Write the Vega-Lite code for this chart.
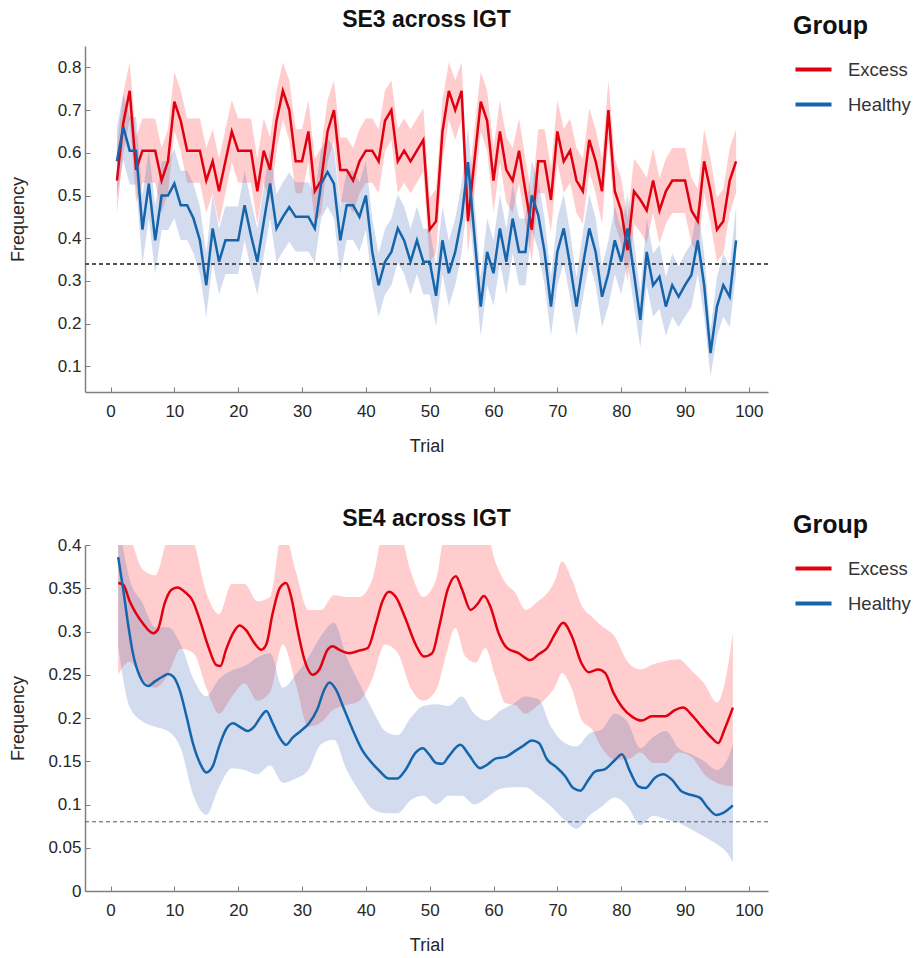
{
  "$schema": "https://vega.github.io/schema/vega-lite/v6.json",
  "background": "white",
  "padding": {"left": 9, "top": 9, "right": 0, "bottom": 2},
  "config": {
    "font": "Liberation Sans",
    "view": {"stroke": null},
    "concat": {"spacing": 53},
    "axis": {"grid": false, "labelFont": "Liberation Sans", "labelFontSize": 17, "labelColor": "#262626", "titleFont": "Liberation Sans", "titleFontSize": 18, "titleFontWeight": "normal", "titleColor": "#262626", "domainColor": "#808080", "domainWidth": 1.5, "tickColor": "#808080", "tickWidth": 1, "tickSize": -5},
    "axisX": {"labelPadding": 16, "titlePadding": 18},
    "axisY": {"labelPadding": 9, "titleX": -58},
    "title": {"font": "Liberation Sans", "fontSize": 23, "fontWeight": "bold", "color": "#111111", "offset": -18},
    "legend": {"orient": "none", "legendX": 708, "legendY": -32, "titleFont": "Liberation Sans", "titleFontSize": 25, "titleFontWeight": "bold", "titleColor": "#111111", "titlePadding": 10, "labelFont": "Liberation Sans", "labelFontSize": 18.5, "labelColor": "#333333", "labelOffset": 14, "symbolType": "stroke", "symbolStrokeWidth": 4, "symbolSize": 1300, "rowPadding": 5}
  },
  "datasets": {
    "se3": [
      {"trial":1,"group":"Excess","mean":0.535,"lo":0.459,"hi":0.611},
      {"trial":2,"group":"Excess","mean":0.67,"lo":0.599,"hi":0.741},
      {"trial":3,"group":"Excess","mean":0.745,"lo":0.678,"hi":0.812},
      {"trial":4,"group":"Excess","mean":0.56,"lo":0.484,"hi":0.636},
      {"trial":5,"group":"Excess","mean":0.605,"lo":0.53,"hi":0.68},
      {"trial":6,"group":"Excess","mean":0.605,"lo":0.53,"hi":0.68},
      {"trial":7,"group":"Excess","mean":0.605,"lo":0.53,"hi":0.68},
      {"trial":8,"group":"Excess","mean":0.535,"lo":0.459,"hi":0.611},
      {"trial":9,"group":"Excess","mean":0.58,"lo":0.505,"hi":0.655},
      {"trial":10,"group":"Excess","mean":0.72,"lo":0.651,"hi":0.789},
      {"trial":11,"group":"Excess","mean":0.675,"lo":0.604,"hi":0.746},
      {"trial":12,"group":"Excess","mean":0.605,"lo":0.53,"hi":0.68},
      {"trial":13,"group":"Excess","mean":0.605,"lo":0.53,"hi":0.68},
      {"trial":14,"group":"Excess","mean":0.605,"lo":0.53,"hi":0.68},
      {"trial":15,"group":"Excess","mean":0.535,"lo":0.459,"hi":0.611},
      {"trial":16,"group":"Excess","mean":0.58,"lo":0.505,"hi":0.655},
      {"trial":17,"group":"Excess","mean":0.51,"lo":0.434,"hi":0.586},
      {"trial":18,"group":"Excess","mean":0.58,"lo":0.505,"hi":0.655},
      {"trial":19,"group":"Excess","mean":0.65,"lo":0.577,"hi":0.723},
      {"trial":20,"group":"Excess","mean":0.605,"lo":0.53,"hi":0.68},
      {"trial":21,"group":"Excess","mean":0.605,"lo":0.53,"hi":0.68},
      {"trial":22,"group":"Excess","mean":0.605,"lo":0.53,"hi":0.68},
      {"trial":23,"group":"Excess","mean":0.51,"lo":0.434,"hi":0.586},
      {"trial":24,"group":"Excess","mean":0.605,"lo":0.53,"hi":0.68},
      {"trial":25,"group":"Excess","mean":0.56,"lo":0.484,"hi":0.636},
      {"trial":26,"group":"Excess","mean":0.675,"lo":0.604,"hi":0.746},
      {"trial":27,"group":"Excess","mean":0.745,"lo":0.678,"hi":0.812},
      {"trial":28,"group":"Excess","mean":0.7,"lo":0.63,"hi":0.77},
      {"trial":29,"group":"Excess","mean":0.58,"lo":0.505,"hi":0.655},
      {"trial":30,"group":"Excess","mean":0.58,"lo":0.505,"hi":0.655},
      {"trial":31,"group":"Excess","mean":0.65,"lo":0.577,"hi":0.723},
      {"trial":32,"group":"Excess","mean":0.51,"lo":0.434,"hi":0.586},
      {"trial":33,"group":"Excess","mean":0.535,"lo":0.459,"hi":0.611},
      {"trial":34,"group":"Excess","mean":0.65,"lo":0.577,"hi":0.723},
      {"trial":35,"group":"Excess","mean":0.7,"lo":0.63,"hi":0.77},
      {"trial":36,"group":"Excess","mean":0.56,"lo":0.484,"hi":0.636},
      {"trial":37,"group":"Excess","mean":0.56,"lo":0.484,"hi":0.636},
      {"trial":38,"group":"Excess","mean":0.535,"lo":0.459,"hi":0.611},
      {"trial":39,"group":"Excess","mean":0.58,"lo":0.505,"hi":0.655},
      {"trial":40,"group":"Excess","mean":0.605,"lo":0.53,"hi":0.68},
      {"trial":41,"group":"Excess","mean":0.605,"lo":0.53,"hi":0.68},
      {"trial":42,"group":"Excess","mean":0.58,"lo":0.505,"hi":0.655},
      {"trial":43,"group":"Excess","mean":0.675,"lo":0.604,"hi":0.746},
      {"trial":44,"group":"Excess","mean":0.7,"lo":0.63,"hi":0.77},
      {"trial":45,"group":"Excess","mean":0.58,"lo":0.505,"hi":0.655},
      {"trial":46,"group":"Excess","mean":0.605,"lo":0.53,"hi":0.68},
      {"trial":47,"group":"Excess","mean":0.58,"lo":0.505,"hi":0.655},
      {"trial":48,"group":"Excess","mean":0.605,"lo":0.53,"hi":0.68},
      {"trial":49,"group":"Excess","mean":0.63,"lo":0.556,"hi":0.704},
      {"trial":50,"group":"Excess","mean":0.42,"lo":0.345,"hi":0.495},
      {"trial":51,"group":"Excess","mean":0.44,"lo":0.364,"hi":0.516},
      {"trial":52,"group":"Excess","mean":0.65,"lo":0.577,"hi":0.723},
      {"trial":53,"group":"Excess","mean":0.745,"lo":0.678,"hi":0.812},
      {"trial":54,"group":"Excess","mean":0.7,"lo":0.63,"hi":0.77},
      {"trial":55,"group":"Excess","mean":0.745,"lo":0.678,"hi":0.812},
      {"trial":56,"group":"Excess","mean":0.44,"lo":0.364,"hi":0.516},
      {"trial":57,"group":"Excess","mean":0.58,"lo":0.505,"hi":0.655},
      {"trial":58,"group":"Excess","mean":0.72,"lo":0.651,"hi":0.789},
      {"trial":59,"group":"Excess","mean":0.675,"lo":0.604,"hi":0.746},
      {"trial":60,"group":"Excess","mean":0.535,"lo":0.459,"hi":0.611},
      {"trial":61,"group":"Excess","mean":0.65,"lo":0.577,"hi":0.723},
      {"trial":62,"group":"Excess","mean":0.56,"lo":0.484,"hi":0.636},
      {"trial":63,"group":"Excess","mean":0.535,"lo":0.459,"hi":0.611},
      {"trial":64,"group":"Excess","mean":0.605,"lo":0.53,"hi":0.68},
      {"trial":65,"group":"Excess","mean":0.51,"lo":0.434,"hi":0.586},
      {"trial":66,"group":"Excess","mean":0.42,"lo":0.345,"hi":0.495},
      {"trial":67,"group":"Excess","mean":0.58,"lo":0.505,"hi":0.655},
      {"trial":68,"group":"Excess","mean":0.58,"lo":0.505,"hi":0.655},
      {"trial":69,"group":"Excess","mean":0.49,"lo":0.414,"hi":0.566},
      {"trial":70,"group":"Excess","mean":0.65,"lo":0.577,"hi":0.723},
      {"trial":71,"group":"Excess","mean":0.58,"lo":0.505,"hi":0.655},
      {"trial":72,"group":"Excess","mean":0.605,"lo":0.53,"hi":0.68},
      {"trial":73,"group":"Excess","mean":0.535,"lo":0.459,"hi":0.611},
      {"trial":74,"group":"Excess","mean":0.51,"lo":0.434,"hi":0.586},
      {"trial":75,"group":"Excess","mean":0.63,"lo":0.556,"hi":0.704},
      {"trial":76,"group":"Excess","mean":0.58,"lo":0.505,"hi":0.655},
      {"trial":77,"group":"Excess","mean":0.51,"lo":0.434,"hi":0.586},
      {"trial":78,"group":"Excess","mean":0.7,"lo":0.63,"hi":0.77},
      {"trial":79,"group":"Excess","mean":0.51,"lo":0.434,"hi":0.586},
      {"trial":80,"group":"Excess","mean":0.465,"lo":0.389,"hi":0.541},
      {"trial":81,"group":"Excess","mean":0.372,"lo":0.298,"hi":0.446},
      {"trial":82,"group":"Excess","mean":0.51,"lo":0.434,"hi":0.586},
      {"trial":83,"group":"Excess","mean":0.49,"lo":0.414,"hi":0.566},
      {"trial":84,"group":"Excess","mean":0.465,"lo":0.389,"hi":0.541},
      {"trial":85,"group":"Excess","mean":0.535,"lo":0.459,"hi":0.611},
      {"trial":86,"group":"Excess","mean":0.465,"lo":0.389,"hi":0.541},
      {"trial":87,"group":"Excess","mean":0.51,"lo":0.434,"hi":0.586},
      {"trial":88,"group":"Excess","mean":0.535,"lo":0.459,"hi":0.611},
      {"trial":89,"group":"Excess","mean":0.535,"lo":0.459,"hi":0.611},
      {"trial":90,"group":"Excess","mean":0.535,"lo":0.459,"hi":0.611},
      {"trial":91,"group":"Excess","mean":0.465,"lo":0.389,"hi":0.541},
      {"trial":92,"group":"Excess","mean":0.44,"lo":0.364,"hi":0.516},
      {"trial":93,"group":"Excess","mean":0.58,"lo":0.505,"hi":0.655},
      {"trial":94,"group":"Excess","mean":0.51,"lo":0.434,"hi":0.586},
      {"trial":95,"group":"Excess","mean":0.42,"lo":0.345,"hi":0.495},
      {"trial":96,"group":"Excess","mean":0.44,"lo":0.364,"hi":0.516},
      {"trial":97,"group":"Excess","mean":0.535,"lo":0.459,"hi":0.611},
      {"trial":98,"group":"Excess","mean":0.58,"lo":0.505,"hi":0.655},
      {"trial":1,"group":"Healthy","mean":0.58,"lo":0.5,"hi":0.66},
      {"trial":2,"group":"Healthy","mean":0.66,"lo":0.583,"hi":0.737},
      {"trial":3,"group":"Healthy","mean":0.605,"lo":0.526,"hi":0.684},
      {"trial":4,"group":"Healthy","mean":0.605,"lo":0.526,"hi":0.684},
      {"trial":5,"group":"Healthy","mean":0.42,"lo":0.34,"hi":0.5},
      {"trial":6,"group":"Healthy","mean":0.528,"lo":0.447,"hi":0.609},
      {"trial":7,"group":"Healthy","mean":0.395,"lo":0.316,"hi":0.474},
      {"trial":8,"group":"Healthy","mean":0.5,"lo":0.419,"hi":0.581},
      {"trial":9,"group":"Healthy","mean":0.5,"lo":0.419,"hi":0.581},
      {"trial":10,"group":"Healthy","mean":0.528,"lo":0.447,"hi":0.609},
      {"trial":11,"group":"Healthy","mean":0.477,"lo":0.396,"hi":0.558},
      {"trial":12,"group":"Healthy","mean":0.477,"lo":0.396,"hi":0.558},
      {"trial":13,"group":"Healthy","mean":0.446,"lo":0.365,"hi":0.527},
      {"trial":14,"group":"Healthy","mean":0.395,"lo":0.316,"hi":0.474},
      {"trial":15,"group":"Healthy","mean":0.29,"lo":0.216,"hi":0.364},
      {"trial":16,"group":"Healthy","mean":0.423,"lo":0.343,"hi":0.503},
      {"trial":17,"group":"Healthy","mean":0.345,"lo":0.268,"hi":0.422},
      {"trial":18,"group":"Healthy","mean":0.395,"lo":0.316,"hi":0.474},
      {"trial":19,"group":"Healthy","mean":0.395,"lo":0.316,"hi":0.474},
      {"trial":20,"group":"Healthy","mean":0.395,"lo":0.316,"hi":0.474},
      {"trial":21,"group":"Healthy","mean":0.477,"lo":0.396,"hi":0.558},
      {"trial":22,"group":"Healthy","mean":0.407,"lo":0.327,"hi":0.487},
      {"trial":23,"group":"Healthy","mean":0.345,"lo":0.268,"hi":0.422},
      {"trial":24,"group":"Healthy","mean":0.438,"lo":0.357,"hi":0.519},
      {"trial":25,"group":"Healthy","mean":0.528,"lo":0.447,"hi":0.609},
      {"trial":26,"group":"Healthy","mean":0.423,"lo":0.343,"hi":0.503},
      {"trial":27,"group":"Healthy","mean":0.45,"lo":0.369,"hi":0.531},
      {"trial":28,"group":"Healthy","mean":0.473,"lo":0.392,"hi":0.554},
      {"trial":29,"group":"Healthy","mean":0.45,"lo":0.369,"hi":0.531},
      {"trial":30,"group":"Healthy","mean":0.45,"lo":0.369,"hi":0.531},
      {"trial":31,"group":"Healthy","mean":0.45,"lo":0.369,"hi":0.531},
      {"trial":32,"group":"Healthy","mean":0.423,"lo":0.343,"hi":0.503},
      {"trial":33,"group":"Healthy","mean":0.528,"lo":0.447,"hi":0.609},
      {"trial":34,"group":"Healthy","mean":0.555,"lo":0.474,"hi":0.636},
      {"trial":35,"group":"Healthy","mean":0.528,"lo":0.447,"hi":0.609},
      {"trial":36,"group":"Healthy","mean":0.395,"lo":0.316,"hi":0.474},
      {"trial":37,"group":"Healthy","mean":0.477,"lo":0.396,"hi":0.558},
      {"trial":38,"group":"Healthy","mean":0.477,"lo":0.396,"hi":0.558},
      {"trial":39,"group":"Healthy","mean":0.45,"lo":0.369,"hi":0.531},
      {"trial":40,"group":"Healthy","mean":0.5,"lo":0.419,"hi":0.581},
      {"trial":41,"group":"Healthy","mean":0.368,"lo":0.29,"hi":0.446},
      {"trial":42,"group":"Healthy","mean":0.29,"lo":0.216,"hi":0.364},
      {"trial":43,"group":"Healthy","mean":0.345,"lo":0.268,"hi":0.422},
      {"trial":44,"group":"Healthy","mean":0.368,"lo":0.29,"hi":0.446},
      {"trial":45,"group":"Healthy","mean":0.423,"lo":0.343,"hi":0.503},
      {"trial":46,"group":"Healthy","mean":0.395,"lo":0.316,"hi":0.474},
      {"trial":47,"group":"Healthy","mean":0.345,"lo":0.268,"hi":0.422},
      {"trial":48,"group":"Healthy","mean":0.395,"lo":0.316,"hi":0.474},
      {"trial":49,"group":"Healthy","mean":0.345,"lo":0.268,"hi":0.422},
      {"trial":50,"group":"Healthy","mean":0.345,"lo":0.268,"hi":0.422},
      {"trial":51,"group":"Healthy","mean":0.265,"lo":0.194,"hi":0.336},
      {"trial":52,"group":"Healthy","mean":0.395,"lo":0.316,"hi":0.474},
      {"trial":53,"group":"Healthy","mean":0.318,"lo":0.242,"hi":0.394},
      {"trial":54,"group":"Healthy","mean":0.368,"lo":0.29,"hi":0.446},
      {"trial":55,"group":"Healthy","mean":0.446,"lo":0.365,"hi":0.527},
      {"trial":56,"group":"Healthy","mean":0.578,"lo":0.498,"hi":0.658},
      {"trial":57,"group":"Healthy","mean":0.407,"lo":0.327,"hi":0.487},
      {"trial":58,"group":"Healthy","mean":0.24,"lo":0.171,"hi":0.309},
      {"trial":59,"group":"Healthy","mean":0.368,"lo":0.29,"hi":0.446},
      {"trial":60,"group":"Healthy","mean":0.318,"lo":0.242,"hi":0.394},
      {"trial":61,"group":"Healthy","mean":0.423,"lo":0.343,"hi":0.503},
      {"trial":62,"group":"Healthy","mean":0.345,"lo":0.268,"hi":0.422},
      {"trial":63,"group":"Healthy","mean":0.446,"lo":0.365,"hi":0.527},
      {"trial":64,"group":"Healthy","mean":0.368,"lo":0.29,"hi":0.446},
      {"trial":65,"group":"Healthy","mean":0.368,"lo":0.29,"hi":0.446},
      {"trial":66,"group":"Healthy","mean":0.5,"lo":0.419,"hi":0.581},
      {"trial":67,"group":"Healthy","mean":0.454,"lo":0.373,"hi":0.535},
      {"trial":68,"group":"Healthy","mean":0.368,"lo":0.29,"hi":0.446},
      {"trial":69,"group":"Healthy","mean":0.24,"lo":0.171,"hi":0.309},
      {"trial":70,"group":"Healthy","mean":0.368,"lo":0.29,"hi":0.446},
      {"trial":71,"group":"Healthy","mean":0.423,"lo":0.343,"hi":0.503},
      {"trial":72,"group":"Healthy","mean":0.337,"lo":0.26,"hi":0.414},
      {"trial":73,"group":"Healthy","mean":0.24,"lo":0.171,"hi":0.309},
      {"trial":74,"group":"Healthy","mean":0.337,"lo":0.26,"hi":0.414},
      {"trial":75,"group":"Healthy","mean":0.423,"lo":0.343,"hi":0.503},
      {"trial":76,"group":"Healthy","mean":0.368,"lo":0.29,"hi":0.446},
      {"trial":77,"group":"Healthy","mean":0.263,"lo":0.192,"hi":0.334},
      {"trial":78,"group":"Healthy","mean":0.318,"lo":0.242,"hi":0.394},
      {"trial":79,"group":"Healthy","mean":0.395,"lo":0.316,"hi":0.474},
      {"trial":80,"group":"Healthy","mean":0.345,"lo":0.268,"hi":0.422},
      {"trial":81,"group":"Healthy","mean":0.423,"lo":0.343,"hi":0.503},
      {"trial":82,"group":"Healthy","mean":0.318,"lo":0.242,"hi":0.394},
      {"trial":83,"group":"Healthy","mean":0.209,"lo":0.143,"hi":0.275},
      {"trial":84,"group":"Healthy","mean":0.368,"lo":0.29,"hi":0.446},
      {"trial":85,"group":"Healthy","mean":0.29,"lo":0.216,"hi":0.364},
      {"trial":86,"group":"Healthy","mean":0.31,"lo":0.235,"hi":0.385},
      {"trial":87,"group":"Healthy","mean":0.24,"lo":0.171,"hi":0.309},
      {"trial":88,"group":"Healthy","mean":0.29,"lo":0.216,"hi":0.364},
      {"trial":89,"group":"Healthy","mean":0.263,"lo":0.192,"hi":0.334},
      {"trial":90,"group":"Healthy","mean":0.29,"lo":0.216,"hi":0.364},
      {"trial":91,"group":"Healthy","mean":0.314,"lo":0.239,"hi":0.389},
      {"trial":92,"group":"Healthy","mean":0.395,"lo":0.316,"hi":0.474},
      {"trial":93,"group":"Healthy","mean":0.29,"lo":0.216,"hi":0.364},
      {"trial":94,"group":"Healthy","mean":0.131,"lo":0.076,"hi":0.186},
      {"trial":95,"group":"Healthy","mean":0.24,"lo":0.171,"hi":0.309},
      {"trial":96,"group":"Healthy","mean":0.29,"lo":0.216,"hi":0.364},
      {"trial":97,"group":"Healthy","mean":0.263,"lo":0.192,"hi":0.334},
      {"trial":98,"group":"Healthy","mean":0.395,"lo":0.316,"hi":0.474}
    ],
    "se4line": [
      {"trial":1.2,"group":"Excess","mean":0.356},{"trial":2,"group":"Excess","mean":0.354},{"trial":3,"group":"Excess","mean":0.335},{"trial":4,"group":"Excess","mean":0.321},{"trial":5,"group":"Excess","mean":0.31},{"trial":6.7,"group":"Excess","mean":0.298},{"trial":7.4,"group":"Excess","mean":0.302},{"trial":8.5,"group":"Excess","mean":0.333},{"trial":9.5,"group":"Excess","mean":0.348},{"trial":10.5,"group":"Excess","mean":0.351},{"trial":11.6,"group":"Excess","mean":0.346},{"trial":12.9,"group":"Excess","mean":0.335},{"trial":14,"group":"Excess","mean":0.313},{"trial":15.3,"group":"Excess","mean":0.283},{"trial":16.6,"group":"Excess","mean":0.261},{"trial":17.2,"group":"Excess","mean":0.26},{"trial":18.1,"group":"Excess","mean":0.279},{"trial":19.2,"group":"Excess","mean":0.298},{"trial":20.2,"group":"Excess","mean":0.307},{"trial":21.2,"group":"Excess","mean":0.302},{"trial":22.5,"group":"Excess","mean":0.287},{"trial":23.6,"group":"Excess","mean":0.279},{"trial":24.4,"group":"Excess","mean":0.285},{"trial":25.4,"group":"Excess","mean":0.321},{"trial":26.5,"group":"Excess","mean":0.35},{"trial":27.5,"group":"Excess","mean":0.356},{"trial":28.3,"group":"Excess","mean":0.34},{"trial":29.3,"group":"Excess","mean":0.302},{"trial":30.4,"group":"Excess","mean":0.267},{"trial":31.7,"group":"Excess","mean":0.25},{"trial":32.7,"group":"Excess","mean":0.256},{"trial":34,"group":"Excess","mean":0.279},{"trial":34.8,"group":"Excess","mean":0.283},{"trial":35.8,"group":"Excess","mean":0.279},{"trial":37.4,"group":"Excess","mean":0.275},{"trial":39,"group":"Excess","mean":0.278},{"trial":40.3,"group":"Excess","mean":0.281},{"trial":41.6,"group":"Excess","mean":0.31},{"trial":42.6,"group":"Excess","mean":0.335},{"trial":43.6,"group":"Excess","mean":0.346},{"trial":44.7,"group":"Excess","mean":0.34},{"trial":46.2,"group":"Excess","mean":0.315},{"trial":47.8,"group":"Excess","mean":0.285},{"trial":49.1,"group":"Excess","mean":0.271},{"trial":50.4,"group":"Excess","mean":0.275},{"trial":51.5,"group":"Excess","mean":0.306},{"trial":52.8,"group":"Excess","mean":0.348},{"trial":54.1,"group":"Excess","mean":0.364},{"trial":55.1,"group":"Excess","mean":0.348},{"trial":56.4,"group":"Excess","mean":0.325},{"trial":57.4,"group":"Excess","mean":0.331},{"trial":58.5,"group":"Excess","mean":0.341},{"trial":59.5,"group":"Excess","mean":0.329},{"trial":60.8,"group":"Excess","mean":0.298},{"trial":62.1,"group":"Excess","mean":0.281},{"trial":63.9,"group":"Excess","mean":0.275},{"trial":65.8,"group":"Excess","mean":0.267},{"trial":67.1,"group":"Excess","mean":0.274},{"trial":68.4,"group":"Excess","mean":0.281},{"trial":69.7,"group":"Excess","mean":0.298},{"trial":70.9,"group":"Excess","mean":0.31},{"trial":72.3,"group":"Excess","mean":0.294},{"trial":73.8,"group":"Excess","mean":0.263},{"trial":74.9,"group":"Excess","mean":0.253},{"trial":76.4,"group":"Excess","mean":0.256},{"trial":77.5,"group":"Excess","mean":0.252},{"trial":78.8,"group":"Excess","mean":0.229},{"trial":80.1,"group":"Excess","mean":0.213},{"trial":81.8,"group":"Excess","mean":0.201},{"trial":83.2,"group":"Excess","mean":0.197},{"trial":84.8,"group":"Excess","mean":0.202},{"trial":86.9,"group":"Excess","mean":0.202},{"trial":88.4,"group":"Excess","mean":0.209},{"trial":89.7,"group":"Excess","mean":0.212},{"trial":91,"group":"Excess","mean":0.204},{"trial":92.6,"group":"Excess","mean":0.19},{"trial":94.2,"group":"Excess","mean":0.177},{"trial":95.2,"group":"Excess","mean":0.171},{"trial":96.2,"group":"Excess","mean":0.187},{"trial":97.5,"group":"Excess","mean":0.212},
      {"trial":1.2,"group":"Healthy","mean":0.386},{"trial":2,"group":"Healthy","mean":0.348},{"trial":2.8,"group":"Healthy","mean":0.306},{"trial":3.5,"group":"Healthy","mean":0.275},{"trial":4.6,"group":"Healthy","mean":0.248},{"trial":5.9,"group":"Healthy","mean":0.237},{"trial":6.9,"group":"Healthy","mean":0.242},{"trial":8.2,"group":"Healthy","mean":0.248},{"trial":9,"group":"Healthy","mean":0.251},{"trial":9.8,"group":"Healthy","mean":0.248},{"trial":10.8,"group":"Healthy","mean":0.233},{"trial":11.9,"group":"Healthy","mean":0.202},{"trial":12.9,"group":"Healthy","mean":0.171},{"trial":14,"group":"Healthy","mean":0.148},{"trial":15,"group":"Healthy","mean":0.137},{"trial":16,"group":"Healthy","mean":0.144},{"trial":17,"group":"Healthy","mean":0.167},{"trial":18.1,"group":"Healthy","mean":0.187},{"trial":19.2,"group":"Healthy","mean":0.194},{"trial":20.2,"group":"Healthy","mean":0.19},{"trial":21.5,"group":"Healthy","mean":0.185},{"trial":22.5,"group":"Healthy","mean":0.19},{"trial":23.6,"group":"Healthy","mean":0.202},{"trial":24.4,"group":"Healthy","mean":0.208},{"trial":25.4,"group":"Healthy","mean":0.194},{"trial":26.7,"group":"Healthy","mean":0.175},{"trial":27.5,"group":"Healthy","mean":0.169},{"trial":28.5,"group":"Healthy","mean":0.177},{"trial":29.8,"group":"Healthy","mean":0.185},{"trial":31.1,"group":"Healthy","mean":0.194},{"trial":32.4,"group":"Healthy","mean":0.21},{"trial":33.5,"group":"Healthy","mean":0.233},{"trial":34.3,"group":"Healthy","mean":0.241},{"trial":35.3,"group":"Healthy","mean":0.233},{"trial":36.6,"group":"Healthy","mean":0.21},{"trial":37.9,"group":"Healthy","mean":0.187},{"trial":39.5,"group":"Healthy","mean":0.162},{"trial":40.5,"group":"Healthy","mean":0.152},{"trial":42.1,"group":"Healthy","mean":0.139},{"trial":43.6,"group":"Healthy","mean":0.13},{"trial":44.9,"group":"Healthy","mean":0.13},{"trial":46.2,"group":"Healthy","mean":0.14},{"trial":47.8,"group":"Healthy","mean":0.16},{"trial":48.9,"group":"Healthy","mean":0.165},{"trial":49.9,"group":"Healthy","mean":0.158},{"trial":51,"group":"Healthy","mean":0.148},{"trial":52,"group":"Healthy","mean":0.147},{"trial":53,"group":"Healthy","mean":0.156},{"trial":54.8,"group":"Healthy","mean":0.169},{"trial":56.1,"group":"Healthy","mean":0.158},{"trial":57.9,"group":"Healthy","mean":0.142},{"trial":59,"group":"Healthy","mean":0.146},{"trial":60.3,"group":"Healthy","mean":0.153},{"trial":61.9,"group":"Healthy","mean":0.155},{"trial":63.4,"group":"Healthy","mean":0.162},{"trial":64.7,"group":"Healthy","mean":0.168},{"trial":66,"group":"Healthy","mean":0.174},{"trial":67.1,"group":"Healthy","mean":0.171},{"trial":68.4,"group":"Healthy","mean":0.152},{"trial":69.7,"group":"Healthy","mean":0.144},{"trial":71.2,"group":"Healthy","mean":0.133},{"trial":72.5,"group":"Healthy","mean":0.119},{"trial":73.6,"group":"Healthy","mean":0.116},{"trial":74.9,"group":"Healthy","mean":0.129},{"trial":75.9,"group":"Healthy","mean":0.138},{"trial":77.5,"group":"Healthy","mean":0.141},{"trial":79.1,"group":"Healthy","mean":0.152},{"trial":80.1,"group":"Healthy","mean":0.158},{"trial":81.4,"group":"Healthy","mean":0.138},{"trial":82.7,"group":"Healthy","mean":0.121},{"trial":83.8,"group":"Healthy","mean":0.119},{"trial":85.3,"group":"Healthy","mean":0.131},{"trial":86.6,"group":"Healthy","mean":0.135},{"trial":87.9,"group":"Healthy","mean":0.129},{"trial":89.5,"group":"Healthy","mean":0.115},{"trial":91,"group":"Healthy","mean":0.111},{"trial":92.3,"group":"Healthy","mean":0.108},{"trial":93.6,"group":"Healthy","mean":0.096},{"trial":94.9,"group":"Healthy","mean":0.088},{"trial":95.9,"group":"Healthy","mean":0.09},{"trial":97.5,"group":"Healthy","mean":0.099}
    ],
    "se4band": [
      {"trial":1.2,"group":"Excess","lo":0.25,"hi":0.43},{"trial":3,"group":"Excess","lo":0.265,"hi":0.41},{"trial":5,"group":"Excess","lo":0.245,"hi":0.372},{"trial":7,"group":"Excess","lo":0.235,"hi":0.365},{"trial":9,"group":"Excess","lo":0.25,"hi":0.41},{"trial":11,"group":"Excess","lo":0.28,"hi":0.43},{"trial":13,"group":"Excess","lo":0.275,"hi":0.405},{"trial":15,"group":"Excess","lo":0.235,"hi":0.345},{"trial":17,"group":"Excess","lo":0.205,"hi":0.32},{"trial":19,"group":"Excess","lo":0.225,"hi":0.355},{"trial":21,"group":"Excess","lo":0.24,"hi":0.355},{"trial":23,"group":"Excess","lo":0.22,"hi":0.335},{"trial":25,"group":"Excess","lo":0.23,"hi":0.34},{"trial":27,"group":"Excess","lo":0.285,"hi":0.42},{"trial":29,"group":"Excess","lo":0.24,"hi":0.37},{"trial":31,"group":"Excess","lo":0.19,"hi":0.325},{"trial":33,"group":"Excess","lo":0.195,"hi":0.325},{"trial":35,"group":"Excess","lo":0.21,"hi":0.342},{"trial":37,"group":"Excess","lo":0.215,"hi":0.34},{"trial":39,"group":"Excess","lo":0.22,"hi":0.34},{"trial":41,"group":"Excess","lo":0.245,"hi":0.36},{"trial":43,"group":"Excess","lo":0.285,"hi":0.42},{"trial":45,"group":"Excess","lo":0.275,"hi":0.42},{"trial":47,"group":"Excess","lo":0.235,"hi":0.37},{"trial":49,"group":"Excess","lo":0.22,"hi":0.34},{"trial":51,"group":"Excess","lo":0.232,"hi":0.36},{"trial":52.5,"group":"Excess","lo":0.271,"hi":0.42},{"trial":54,"group":"Excess","lo":0.304,"hi":0.43},{"trial":55.6,"group":"Excess","lo":0.271,"hi":0.43},{"trial":57.2,"group":"Excess","lo":0.264,"hi":0.42},{"trial":58.7,"group":"Excess","lo":0.281,"hi":0.42},{"trial":60.3,"group":"Excess","lo":0.248,"hi":0.38},{"trial":61.9,"group":"Excess","lo":0.217,"hi":0.356},{"trial":63.4,"group":"Excess","lo":0.215,"hi":0.345},{"trial":65,"group":"Excess","lo":0.205,"hi":0.325},{"trial":67,"group":"Excess","lo":0.215,"hi":0.335},{"trial":68.5,"group":"Excess","lo":0.225,"hi":0.345},{"trial":69.7,"group":"Excess","lo":0.237,"hi":0.36},{"trial":70.7,"group":"Excess","lo":0.252,"hi":0.381},{"trial":72.3,"group":"Excess","lo":0.233,"hi":0.36},{"trial":73.8,"group":"Excess","lo":0.198,"hi":0.33},{"trial":75.4,"group":"Excess","lo":0.187,"hi":0.317},{"trial":77,"group":"Excess","lo":0.165,"hi":0.306},{"trial":79,"group":"Excess","lo":0.152,"hi":0.294},{"trial":81,"group":"Excess","lo":0.152,"hi":0.265},{"trial":83,"group":"Excess","lo":0.16,"hi":0.256},{"trial":85,"group":"Excess","lo":0.148,"hi":0.262},{"trial":87,"group":"Excess","lo":0.148,"hi":0.266},{"trial":89,"group":"Excess","lo":0.16,"hi":0.268},{"trial":91,"group":"Excess","lo":0.155,"hi":0.255},{"trial":93,"group":"Excess","lo":0.135,"hi":0.24},{"trial":95,"group":"Excess","lo":0.125,"hi":0.218},{"trial":96.5,"group":"Excess","lo":0.122,"hi":0.25},{"trial":97.5,"group":"Excess","lo":0.121,"hi":0.298},
      {"trial":1.2,"group":"Healthy","lo":0.283,"hi":0.43},{"trial":3,"group":"Healthy","lo":0.213,"hi":0.36},{"trial":5,"group":"Healthy","lo":0.196,"hi":0.333},{"trial":7,"group":"Healthy","lo":0.19,"hi":0.305},{"trial":9,"group":"Healthy","lo":0.185,"hi":0.305},{"trial":11,"group":"Healthy","lo":0.165,"hi":0.285},{"trial":13,"group":"Healthy","lo":0.11,"hi":0.245},{"trial":15,"group":"Healthy","lo":0.088,"hi":0.225},{"trial":17,"group":"Healthy","lo":0.12,"hi":0.245},{"trial":19,"group":"Healthy","lo":0.142,"hi":0.255},{"trial":21,"group":"Healthy","lo":0.14,"hi":0.26},{"trial":23,"group":"Healthy","lo":0.135,"hi":0.27},{"trial":25,"group":"Healthy","lo":0.145,"hi":0.275},{"trial":27,"group":"Healthy","lo":0.125,"hi":0.235},{"trial":29,"group":"Healthy","lo":0.13,"hi":0.25},{"trial":31,"group":"Healthy","lo":0.14,"hi":0.27},{"trial":33,"group":"Healthy","lo":0.17,"hi":0.295},{"trial":35,"group":"Healthy","lo":0.175,"hi":0.31},{"trial":37,"group":"Healthy","lo":0.14,"hi":0.27},{"trial":39,"group":"Healthy","lo":0.115,"hi":0.24},{"trial":41,"group":"Healthy","lo":0.095,"hi":0.21},{"trial":43,"group":"Healthy","lo":0.09,"hi":0.185},{"trial":45,"group":"Healthy","lo":0.09,"hi":0.18},{"trial":47,"group":"Healthy","lo":0.105,"hi":0.2},{"trial":49,"group":"Healthy","lo":0.11,"hi":0.214},{"trial":51,"group":"Healthy","lo":0.1,"hi":0.216},{"trial":53,"group":"Healthy","lo":0.11,"hi":0.214},{"trial":55,"group":"Healthy","lo":0.11,"hi":0.225},{"trial":57,"group":"Healthy","lo":0.1,"hi":0.205},{"trial":59,"group":"Healthy","lo":0.108,"hi":0.197},{"trial":61,"group":"Healthy","lo":0.118,"hi":0.208},{"trial":63,"group":"Healthy","lo":0.12,"hi":0.216},{"trial":65,"group":"Healthy","lo":0.12,"hi":0.225},{"trial":67,"group":"Healthy","lo":0.11,"hi":0.222},{"trial":69,"group":"Healthy","lo":0.098,"hi":0.19},{"trial":71,"group":"Healthy","lo":0.083,"hi":0.172},{"trial":73,"group":"Healthy","lo":0.072,"hi":0.167},{"trial":75,"group":"Healthy","lo":0.087,"hi":0.182},{"trial":77,"group":"Healthy","lo":0.098,"hi":0.187},{"trial":79,"group":"Healthy","lo":0.108,"hi":0.205},{"trial":81,"group":"Healthy","lo":0.098,"hi":0.195},{"trial":83,"group":"Healthy","lo":0.076,"hi":0.165},{"trial":85,"group":"Healthy","lo":0.087,"hi":0.178},{"trial":87,"group":"Healthy","lo":0.083,"hi":0.185},{"trial":89,"group":"Healthy","lo":0.079,"hi":0.165},{"trial":91,"group":"Healthy","lo":0.071,"hi":0.158},{"trial":93,"group":"Healthy","lo":0.063,"hi":0.15},{"trial":95,"group":"Healthy","lo":0.054,"hi":0.14},{"trial":96.5,"group":"Healthy","lo":0.045,"hi":0.15},{"trial":97.5,"group":"Healthy","lo":0.033,"hi":0.17}
    ]
  },
  "resolve": {"legend": {"color": "independent"}},
  "vconcat": [
    {
      "title": "SE3 across IGT",
      "width": 683,
      "height": 346,
      "data": {"name": "se3"},
      "layer": [
        {
          "mark": {"type": "area", "fillOpacity": 0.22, "clip": true},
          "encoding": {
            "x": {"field": "trial", "type": "quantitative", "scale": {"domain": [-4, 103], "nice": false}, "axis": {"title": "Trial", "values": [0,10,20,30,40,50,60,70,80,90,100]}},
            "y": {"field": "lo", "type": "quantitative", "scale": {"domain": [0.04, 0.85], "nice": false, "zero": false}, "axis": {"title": "Frequency", "values": [0.1,0.2,0.3,0.4,0.5,0.6,0.7,0.8], "format": "~g"}},
            "y2": {"field": "hi"},
            "fill": {"field": "group", "type": "nominal", "scale": {"domain": ["Excess", "Healthy"], "range": ["#ff1c1c", "#3260b2"]}, "legend": null}
          }
        },
        {
          "mark": {"type": "rule", "color": "#555555", "strokeDash": [4, 3], "strokeWidth": 1},
          "encoding": {"y": {"datum": 0.34}}
        },
        {
          "mark": {"type": "line", "strokeWidth": 2.5, "clip": true},
          "encoding": {
            "x": {"field": "trial", "type": "quantitative"},
            "y": {"field": "mean", "type": "quantitative"},
            "color": {"field": "group", "type": "nominal", "scale": {"domain": ["Excess", "Healthy"], "range": ["#e0000f", "#1565ad"]}, "legend": {"title": "Group"}}
          }
        }
      ]
    },
    {
      "title": "SE4 across IGT",
      "width": 683,
      "height": 346,
      "layer": [
        {
          "data": {"name": "se4band"},
          "mark": {"type": "area", "fillOpacity": 0.22, "clip": true, "interpolate": "monotone"},
          "encoding": {
            "x": {"field": "trial", "type": "quantitative", "scale": {"domain": [-4, 103], "nice": false}, "axis": {"title": "Trial", "values": [0,10,20,30,40,50,60,70,80,90,100]}},
            "y": {"field": "lo", "type": "quantitative", "scale": {"domain": [0, 0.4], "nice": false}, "axis": {"title": "Frequency", "values": [0,0.05,0.1,0.15,0.2,0.25,0.3,0.35,0.4], "format": "~g"}},
            "y2": {"field": "hi"},
            "fill": {"field": "group", "type": "nominal", "scale": {"domain": ["Excess", "Healthy"], "range": ["#ff1c1c", "#3260b2"]}, "legend": null}
          }
        },
        {
          "data": {"values": [{"ref": 0.08}]},
          "mark": {"type": "rule", "color": "#555555", "strokeDash": [4, 3], "strokeWidth": 1},
          "encoding": {"y": {"field": "ref", "type": "quantitative"}}
        },
        {
          "data": {"name": "se4line"},
          "mark": {"type": "line", "strokeWidth": 2.5, "clip": true, "interpolate": "monotone"},
          "encoding": {
            "x": {"field": "trial", "type": "quantitative"},
            "y": {"field": "mean", "type": "quantitative"},
            "color": {"field": "group", "type": "nominal", "scale": {"domain": ["Excess", "Healthy"], "range": ["#e0000f", "#1565ad"]}, "legend": {"title": "Group"}}
          }
        }
      ]
    }
  ]
}
